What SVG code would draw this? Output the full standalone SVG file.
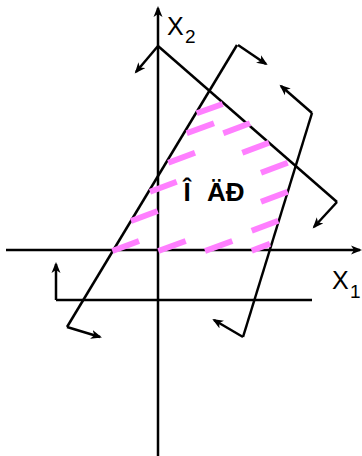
<svg xmlns="http://www.w3.org/2000/svg" width="362" height="456" viewBox="0 0 362 456">
<style>
.ln{stroke:#000;stroke-width:2.5;fill:none;stroke-linecap:butt}
.ar{stroke:#000;stroke-width:2.5;fill:none;marker-end:url(#ah)}
.h{stroke:#ff7fff;stroke-width:6;stroke-linecap:butt}
.lab{font-family:"Liberation Sans",Arial,sans-serif;fill:#000}
</style>
<defs>
<marker id="ah" markerUnits="userSpaceOnUse" markerWidth="12" markerHeight="10" refX="9" refY="4.5" orient="auto" viewBox="0 0 12 9">
<path d="M0,0 L11,4.5 L0,9 L3,4.5 z" fill="#000"/>
</marker>
</defs>
<rect width="362" height="456" fill="#fff"/>
<g id="axes">
<line class="ar" x1="6" y1="250" x2="360" y2="250"/>
<line class="ar" x1="158" y1="456" x2="158" y2="8"/>
</g>
<g id="constraints">
<line class="ln" x1="158" y1="46" x2="337" y2="202"/>
<line class="ar" x1="158" y1="46" x2="136" y2="72"/>
<line class="ar" x1="337" y1="202" x2="314" y2="227"/>
<line class="ln" x1="237" y1="45" x2="67" y2="327"/>
<line class="ar" x1="238" y1="45" x2="266" y2="64"/>
<line class="ar" x1="67" y1="327" x2="100" y2="337"/>
<line class="ln" x1="312" y1="113" x2="243" y2="337"/>
<line class="ar" x1="312" y1="113" x2="281" y2="86"/>
<line class="ar" x1="243" y1="337" x2="214" y2="320"/>
<line class="ln" x1="56" y1="300" x2="312" y2="300"/>
<line class="ar" x1="56" y1="300" x2="56" y2="264"/>
</g>
<g id="hatch">
<line class="h" x1="196.7" y1="113.3" x2="222.7" y2="104"/>
<line class="h" x1="186.7" y1="133.3" x2="214" y2="123.3"/>
<line class="h" x1="223.3" y1="133.3" x2="250" y2="123.3"/>
<line class="h" x1="168.3" y1="162.7" x2="195" y2="152.7"/>
<line class="h" x1="242.3" y1="152.7" x2="269" y2="142.7"/>
<line class="h" x1="150" y1="191.7" x2="176.7" y2="181.7"/>
<line class="h" x1="261" y1="172.7" x2="287.7" y2="162.7"/>
<line class="h" x1="131" y1="221" x2="157.7" y2="211"/>
<line class="h" x1="261" y1="201.7" x2="287.7" y2="191.7"/>
<line class="h" x1="112.3" y1="251" x2="139" y2="241"/>
<line class="h" x1="158.3" y1="251" x2="185.7" y2="241"/>
<line class="h" x1="205" y1="251" x2="232.3" y2="241"/>
<line class="h" x1="251.7" y1="230.7" x2="278.3" y2="220.7"/>
<line class="h" x1="251.7" y1="250.7" x2="270" y2="243.7"/>
</g>
<g id="labels">
<text class="lab" x="167" y="35" font-size="25">X<tspan x="185" y="43" font-size="19">2</tspan></text>
<text class="lab" x="332" y="289" font-size="25">X<tspan x="350" y="298" font-size="19">1</tspan></text>
<text class="lab" x="183.5" y="201" font-size="26" font-weight="bold" word-spacing="9">Î ÄÐ</text>
</g>
</svg>
